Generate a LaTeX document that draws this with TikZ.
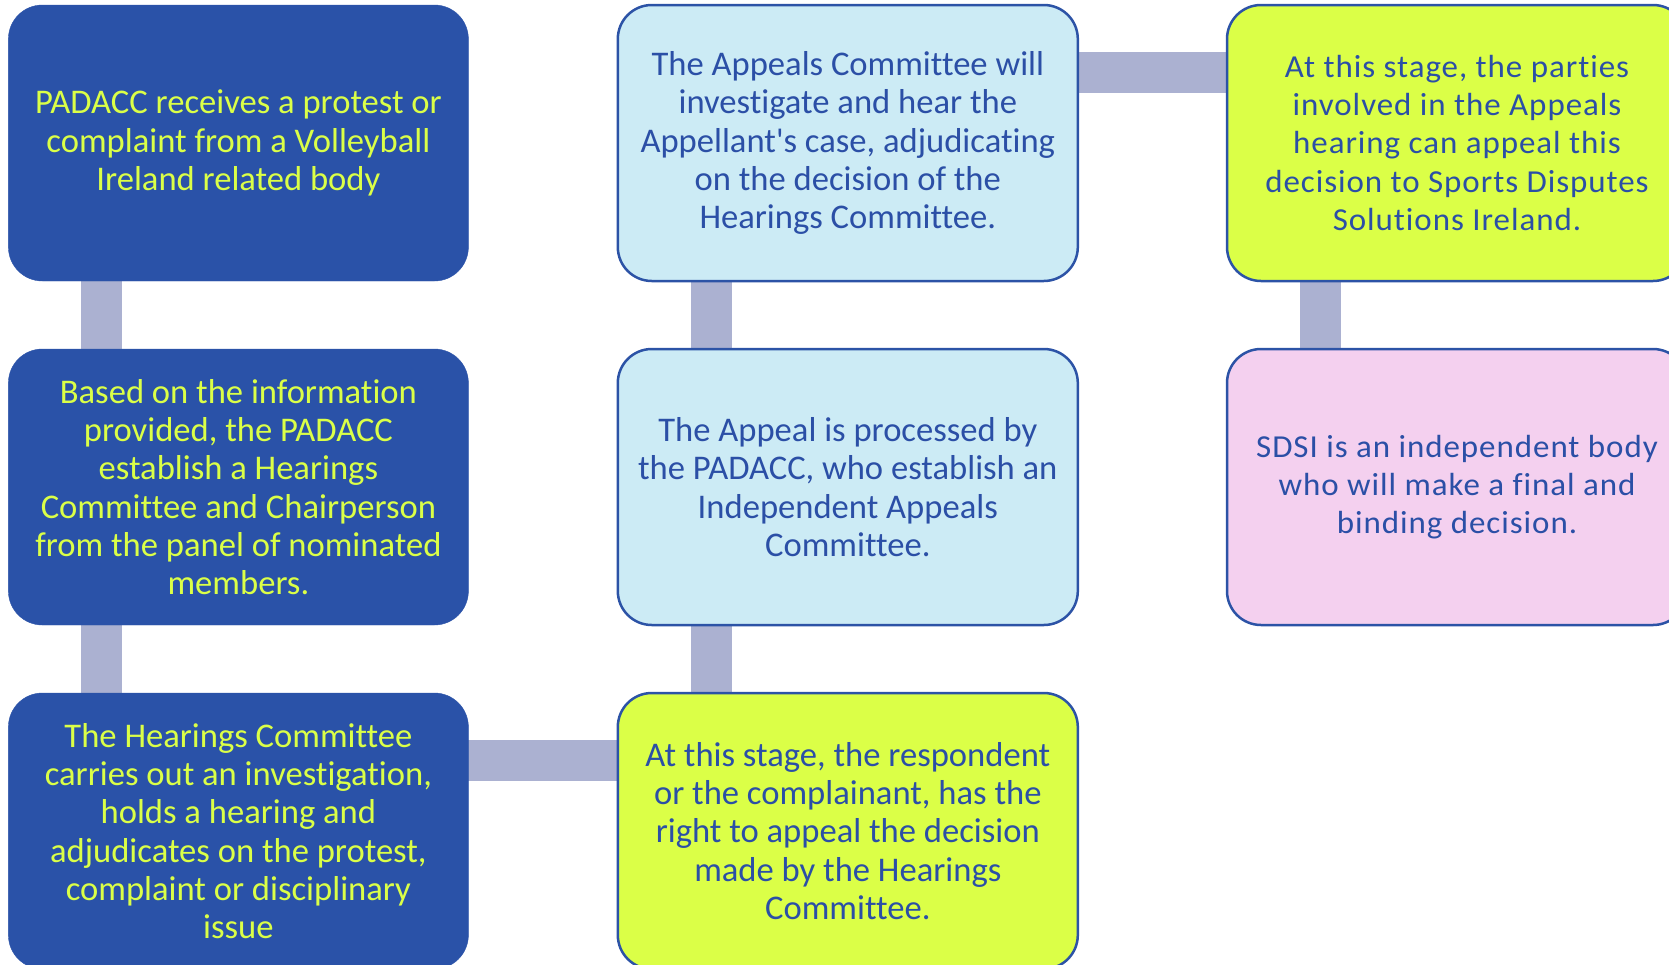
\documentclass[tikz,border=0pt]{standalone}
\usepackage{fontspec}
\setmainfont{Carlito}[Ligatures={TeXOff,NoCommon}]
\newfontfamily\widefont{Carlito}[Ligatures={TeXOff,NoCommon},LetterSpace=3,FakeStretch=1.03]
\usetikzlibrary{positioning}
\pgfdeclarelayer{bg}
\pgfsetlayers{bg,main}
\definecolor{darkbox}{HTML}{2A52A8}
\definecolor{lime}{HTML}{DBFF47}
\definecolor{lightblue}{HTML}{CCEBF5}
\definecolor{pinkbox}{HTML}{F4D0EF}
\definecolor{bordblue}{HTML}{2C53A6}
\definecolor{textblue}{HTML}{2B4FA6}
\definecolor{connc}{HTML}{ABB1D1}
\tikzset{
  box/.style={rectangle, rounded corners=34pt, minimum width=460pt, minimum height=276pt,
    align=center, inner sep=0pt, font=\fontsize{34.6}{38.3}\selectfont},
  darkstep/.style={box, fill=darkbox, draw=darkbox, text=lime},
  lightstep/.style={box, fill=lightblue, draw=bordblue, line width=2.5pt, text=textblue},
  limestep/.style={box, fill=lime, draw=bordblue, line width=2.5pt, text=textblue},
  pinkstep/.style={box, fill=pinkbox, draw=bordblue, line width=2.5pt, text=textblue},
  conn/.style={draw=connc, line width=41pt}
}
\begin{document}
\begin{tikzpicture}[x=1pt,y=-1pt]
\useasboundingbox (0,0) rectangle (1669,964);
\clip (0,0) rectangle (1669,964);
\node[darkstep] (a1) at (238.4,143) {PADACC receives a protest or\\complaint from a Volleyball\\Ireland related body};
\node[darkstep] (a2) at (238.4,487) {Based on the information\\provided, the PADACC\\establish a Hearings\\Committee and Chairperson\\from the panel of nominated\\members.};
\node[darkstep] (a3) at (238.4,831) {The Hearings Committee\\carries out an investigation,\\holds a hearing and\\adjudicates on the protest,\\complaint or disciplinary\\issue};
\node[limestep] (b3) at (847.8,831) {At this stage, the respondent\\or the complainant, has the\\right to appeal the decision\\made by the Hearings\\Committee.};
\node[lightstep] (b2) at (847.8,487) {The Appeal is processed by\\the PADACC, who establish an\\Independent Appeals\\Committee.};
\node[lightstep] (b1) at (847.8,143) {The Appeals Committee will\\investigate and hear the\\Appellant's case, adjudicating\\on the decision of the\\Hearings Committee.};
\node[limestep, font=\fontsize{32}{38.3}\widefont] (c1) at (1457,143) {At this stage, the parties\\involved in the Appeals\\hearing can appeal this\\decision to Sports Disputes\\Solutions Ireland.};
\node[pinkstep, font=\fontsize{32}{38.3}\widefont] (c2) at (1457,487) {SDSI is an independent body\\who will make a final and\\binding decision.};
\begin{pgfonlayer}{bg}
\draw[conn] ([xshift=-136.5pt]a1.center) -- ([xshift=-136.5pt]a2.center);
\draw[conn] ([xshift=-136.5pt]a2.center) -- ([xshift=-136.5pt]a3.center);
\draw[conn] ([yshift=71pt]a3.center) -- ([yshift=71pt]b3.center);
\draw[conn] ([xshift=-136.5pt]b3.center) -- ([xshift=-136.5pt]b2.center);
\draw[conn] ([xshift=-136.5pt]b2.center) -- ([xshift=-136.5pt]b1.center);
\draw[conn] ([yshift=71pt]b1.center) -- ([yshift=71pt]c1.center);
\draw[conn] ([xshift=-136.5pt]c1.center) -- ([xshift=-136.5pt]c2.center);
\end{pgfonlayer}
\end{tikzpicture}
\end{document}
